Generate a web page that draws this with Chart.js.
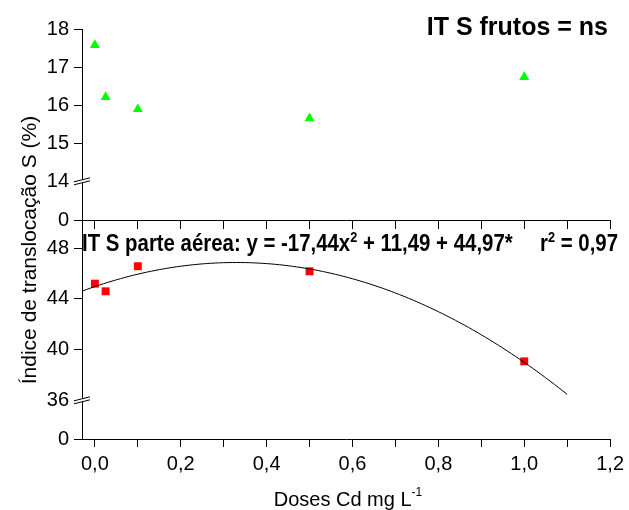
<!DOCTYPE html>
<html>
<head>
<meta charset="utf-8">
<script src="https://cdn.jsdelivr.net/npm/chart.js@4.4.0/dist/chart.umd.min.js"></script>
<style>
  html, body { margin: 0; padding: 0; background: #fff; }
  #wrap { width: 629px; height: 510px; }
</style>
</head>
<body>
<div id="wrap"><canvas id="itChart"></canvas></div>
<script>
// Cd doses (mg L-1)
const doses = [0, 0.025, 0.1, 0.5, 1.0];
// IT S frutos (%)
const frutos = [17.58, 16.22, 15.9, 15.66, 16.74];
// IT S parte aérea (%)
const parteAerea = [45.2, 44.6, 46.57, 46.17, 39.1];
// quadratic fit of parte aérea: c0 + c1*x + c2*x^2
const fitCoef = [44.97, 11.49, -17.44];
const fitRange = [-0.03, 1.1];

const xTicks = [0, 0.1, 0.2, 0.3, 0.4, 0.5, 0.6, 0.7, 0.8, 0.9, 1.0, 1.1, 1.2];
const xTickLabels = ['0,0', '', '0,2', '', '0,4', '', '0,6', '', '0,8', '', '1,0', '', '1,2'];
// broken axes: the lowest tick stands for 0
const topTicks = [13, 14, 15, 16, 17, 18];
const topTickLabels = ['0', '14', '15', '16', '17', '18'];
const botTicks = [33, 36, 40, 44, 48];
const botTickLabels = ['0', '36', '40', '44', '48'];
const topBreak = 14;
const botBreak = 36;

const FONT = "'Liberation Sans', Arial, sans-serif";

const fitPts = [];
for (let x = fitRange[0]; x <= fitRange[1] + 1e-9; x += 0.01) {
  fitPts.push({ x: x, y: fitCoef[0] + fitCoef[1] * x + fitCoef[2] * x * x });
}

const useTicks = values => scale => { scale.ticks = values.map(v => ({ value: v })); };

const tickFont = { family: FONT, size: 20 };

function yScale(min, max, weight, ticks, labels) {
  return {
    type: 'linear', position: 'left', stack: 'it', stackWeight: weight,
    min: min, max: max,
    afterBuildTicks: useTicks(ticks),
    afterFit: s => { s.width = 82; },
    ticks: { color: '#000', font: tickFont, padding: 5, autoSkip: false,
             callback: (v, i) => labels[i] },
    grid: { drawOnChartArea: false, tickLength: 8, color: '#000', lineWidth: 1 },
    border: { color: '#000', width: 1 }
  };
}

// draw a sequence of text pieces, some of them superscript
function runsWidth(ctx, runs, base, sup) {
  let w = 0;
  runs.forEach(r => { ctx.font = r.sup ? sup : base; w += ctx.measureText(r.t).width; });
  return w;
}
function drawRuns(ctx, runs, x, y, base, sup, rise) {
  runs.forEach(r => {
    ctx.font = r.sup ? sup : base;
    ctx.fillText(r.t, x, r.sup ? y - rise : y);
    x += ctx.measureText(r.t).width;
  });
}

const annotations = {
  id: 'annotations',
  afterDraw(chart) {
    const ctx = chart.ctx;
    const area = chart.chartArea;
    ctx.save();
    ctx.fillStyle = '#000';
    ctx.textBaseline = 'alphabetic';

    // axis breaks
    ctx.strokeStyle = '#000';
    ctx.lineWidth = 1;
    [[chart.scales.yTop, topBreak], [chart.scales.yBot, botBreak]].forEach(([s, v]) => {
      const y = s.getPixelForValue(v);
      const x = area.left;
      ctx.fillStyle = '#fff';
      ctx.beginPath();
      ctx.moveTo(x - 8, y + 3); ctx.lineTo(x + 8, y - 1);
      ctx.lineTo(x + 8, y - 4); ctx.lineTo(x - 8, y);
      ctx.closePath(); ctx.fill();
      ctx.beginPath();
      ctx.moveTo(x - 8, y + 3); ctx.lineTo(x + 8, y - 1);
      ctx.moveTo(x - 8, y); ctx.lineTo(x + 8, y - 4);
      ctx.stroke();
    });
    ctx.fillStyle = '#000';

    // frutos label
    ctx.font = 'bold 25px ' + FONT;
    ctx.textAlign = 'right';
    ctx.fillText('IT S frutos = ns', 608, 35);
    ctx.textAlign = 'left';

    // parte aérea equation
    const base = 'bold 24px ' + FONT, sup = 'bold 15px ' + FONT;
    const eq = [
      { t: 'IT S parte aérea: y = -17,44x' }, { t: '2', sup: true },
      { t: ' + 11,49 + 44,97*' }
    ];
    const r2 = [{ t: 'r' }, { t: '2', sup: true }, { t: ' = 0,97' }];
    const sx = 0.85;
    ctx.save();
    ctx.translate(82, 251);
    ctx.scale(sx, 1);
    drawRuns(ctx, eq, 0, 0, base, sup, 9);
    ctx.restore();
    ctx.save();
    ctx.translate(618 - runsWidth(ctx, r2, base, sup) * sx, 251);
    ctx.scale(sx, 1);
    drawRuns(ctx, r2, 0, 0, base, sup, 9);
    ctx.restore();

    // x axis title
    const xt = [{ t: 'Doses Cd mg L' }, { t: '-1', sup: true }];
    const xb = '20px ' + FONT, xs = '12px ' + FONT;
    drawRuns(ctx, xt, 348 - runsWidth(ctx, xt, xb, xs) / 2, 506, xb, xs, 10);

    // y axis title
    ctx.save();
    ctx.translate(36, 250);
    ctx.rotate(-Math.PI / 2);
    ctx.font = '21px ' + FONT;
    ctx.textAlign = 'center';
    ctx.fillText('Índice de translocação S (%)', 0, 0);
    ctx.restore();

    ctx.restore();
  }
};

new Chart(document.getElementById('itChart'), {
  type: 'scatter',
  data: {
    datasets: [
      {
        label: 'IT S frutos',
        data: doses.map((d, i) => ({ x: d, y: frutos[i] })),
        yAxisID: 'yTop',
        pointStyle: 'triangle',
        pointRadius: 5.8,
        backgroundColor: '#00ff00',
        borderColor: '#00ff00',
        borderWidth: 0
      },
      {
        label: 'Ajuste',
        data: fitPts,
        yAxisID: 'yBot',
        showLine: true,
        borderColor: '#000',
        borderWidth: 1,
        pointRadius: 0
      },
      {
        label: 'IT S parte aérea',
        data: doses.map((d, i) => ({ x: d, y: parteAerea[i] })),
        yAxisID: 'yBot',
        pointStyle: 'rect',
        pointRadius: 5.6,
        backgroundColor: '#ff0000',
        borderColor: '#ff0000',
        borderWidth: 0
      }
    ]
  },
  options: {
    responsive: true,
    maintainAspectRatio: false,
    animation: false,
    events: [],
    layout: { padding: { top: 29, right: 16, left: 0, bottom: 0 } },
    plugins: { legend: { display: false }, tooltip: { enabled: false } },
    scales: {
      x: {
        type: 'linear', position: 'bottom', min: -0.03, max: 1.2,
        afterBuildTicks: useTicks(xTicks),
        afterFit: s => { s.height = 71; },
        ticks: { color: '#000', font: tickFont, padding: 5, autoSkip: false, maxRotation: 0,
                 callback: (v, i) => xTickLabels[i] },
        grid: { drawOnChartArea: false, tickLength: 8, color: '#000', lineWidth: 1 },
        border: { color: '#000', width: 1 }
      },
      xMid: {
        type: 'linear', position: { yTop: 13 }, min: -0.03, max: 1.2,
        afterBuildTicks: useTicks(xTicks),
        ticks: { display: false },
        grid: { drawOnChartArea: false, tickLength: 8, color: '#000', lineWidth: 1 },
        border: { color: '#000', width: 1 }
      },
      yBot: yScale(33, 50.2, 219, botTicks, botTickLabels),
      yTop: yScale(13, 18, 191, topTicks, topTickLabels)
    }
  },
  plugins: [annotations]
});
</script>
</body>
</html>
